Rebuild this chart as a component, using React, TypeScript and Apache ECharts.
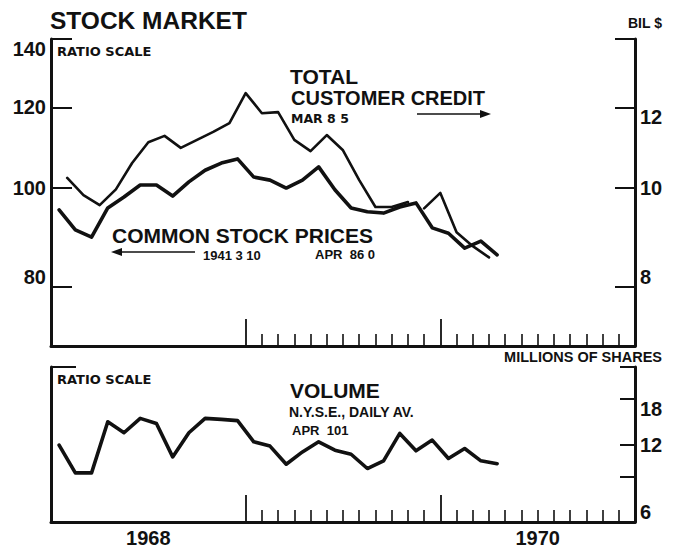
import React, { useEffect, useRef } from "react";
import * as echarts from "echarts";

// ---- data ----
const months = [
  "Jan 1968", "Feb 1968", "Mar 1968", "Apr 1968", "May 1968", "Jun 1968",
  "Jul 1968", "Aug 1968", "Sep 1968", "Oct 1968", "Nov 1968", "Dec 1968",
  "Jan 1969", "Feb 1969", "Mar 1969", "Apr 1969", "May 1969", "Jun 1969",
  "Jul 1969", "Aug 1969", "Sep 1969", "Oct 1969", "Nov 1969", "Dec 1969",
  "Jan 1970", "Feb 1970", "Mar 1970", "Apr 1970",
];
// Common stock prices (1941-43 = 10), monthly averages
const stockPrices = [
  95.2, 91.0, 89.5, 95.6, 98.0, 100.7, 100.7, 98.2, 101.4, 104.1, 105.8, 106.8,
  102.5, 101.8, 100.0, 101.8, 104.9, 99.6, 95.6, 94.8, 94.5, 95.8, 96.7, 91.4,
  90.3, 87.3, 88.7, 86.0,
];
// Total customer credit (bil $), end of month, old series Jan 1968 - Oct 1969
const creditOld = [
  10.23, 9.84, 9.62, 9.97, 10.58, 11.09, 11.25, 10.95, 11.15, 11.35, 11.58, 12.39,
  11.84, 11.87, 11.15, 10.87, 11.27, 10.89, 10.18, 9.58, 9.58, 9.69,
];
// new series Nov 1969 - Mar 1970
const creditNew = [9.55, 9.89, 9.05, 8.77, 8.55];
const creditNewStart = 22; // month index of Nov 1969
// N.Y.S.E. volume, daily average (millions of shares)
const volume = [
  11.93, 9.31, 9.31, 14.7, 13.33, 15.16, 14.49, 10.74, 13.33, 15.16, 15.02, 14.86,
  12.29, 11.83, 10.06, 11.23, 12.29, 11.41, 11.0, 9.68, 10.37, 13.25, 11.34, 12.48,
  10.59, 11.58, 10.37, 10.1,
];

const firstYear = 1968;
const axisYears = 3; // 1968-1970
const tickedYears = [1969, 1970];
const labeledYears = [1968, 1970];

const priceRange = [70, 140];
const priceTicks = [80, 100, 120, 140];
const creditRange = [7, 14];
const creditTicks = [8, 10, 12, 14];
const creditLabels = [8, 10, 12];
const volumeRange = [6, 24];
const volumeLeftTicks = [24];
const volumeRightTicks = [9, 12, 18, 24];
const volumeLabels = [6, 12, 18];

const L = (v: number) => Math.log10(v);
const fromLog = (v: number) => String(Math.round(Math.pow(10, v)));

const FONT = "'Liberation Sans', Arial, sans-serif";
const DEJAVU = "'DejaVu Sans', sans-serif";
const INK = "#111";

function buildOption() {
  const totalMonths = axisYears * 12;
  const longTicks = tickedYears.map((y) => (y - firstYear) * 12);
  const shortTicks: number[] = [];
  for (let m = longTicks[0]; m < totalMonths; m++) {
    if (m % 12 !== 0) shortTicks.push(m);
  }
  const yearLabelPos = labeledYears.map((y) => (y - firstYear) * 12 + 6);

  const gridTop = { left: 51, right: 43, top: 39, height: 307, outerBoundsMode: "none" };
  const gridBot = { left: 51, right: 43, top: 367, height: 155, outerBoundsMode: "none" };

  const baseX = {
    type: "value",
    min: 0,
    max: totalMonths,
    splitLine: { show: false },
    axisLabel: { show: false },
  };
  const xShort = (gridIndex: number, labels: boolean) => ({
    ...baseX,
    gridIndex,
    axisLine: { show: true, lineStyle: { color: INK, width: 3 } },
    axisTick: {
      show: true,
      inside: true,
      length: 12,
      customValues: shortTicks,
      lineStyle: { color: INK, width: 1.6 },
    },
    axisLabel: labels
      ? {
          show: true,
          customValues: yearLabelPos,
          formatter: (v: number) => String(firstYear + Math.floor(v / 12)),
          color: INK,
          fontFamily: FONT,
          fontWeight: "bold",
          fontSize: 20,
          margin: 6,
        }
      : { show: false },
  });
  const xLong = (gridIndex: number) => ({
    ...baseX,
    gridIndex,
    axisLine: { show: false },
    axisTick: {
      show: true,
      inside: true,
      length: 27,
      customValues: longTicks,
      lineStyle: { color: INK, width: 1.8 },
    },
  });

  const yAxisCommon = (
    gridIndex: number,
    position: string,
    range: number[],
    ticks: number[],
    labels: number[] | null,
    tickLen: number
  ) => {
    const lo = L(range[0]);
    const hi = L(range[1]);
    const inside = (v: number) => Math.max(lo + 1e-6, Math.min(hi - 1e-6, L(v)));
    return {
      type: "value",
      gridIndex,
      position,
      min: lo,
      max: hi,
      splitLine: { show: false },
      axisLine: { show: true, lineStyle: { color: INK, width: 3 } },
      axisTick: {
        show: true,
        inside: true,
        length: tickLen,
        customValues: ticks.map(inside),
        lineStyle: { color: INK, width: 2 },
      },
      axisLabel: labels
        ? {
            show: true,
            showMinLabel: true,
            showMaxLabel: true,
            customValues: labels.map(L),
            formatter: fromLog,
            color: INK,
            fontFamily: FONT,
            fontWeight: "bold",
            fontSize: 20,
            margin: 5,
            verticalAlignMaxLabel: "top",
            verticalAlignMinLabel: "bottom",
          }
        : { show: false },
    };
  };
  const hiddenY = (gridIndex: number, range: number[]) => ({
    type: "value",
    gridIndex,
    show: false,
    min: L(range[0]),
    max: L(range[1]),
  });

  const text = (
    str: string,
    x: number,
    y: number,
    size: number,
    weight: string = "bold",
    align: string = "left",
    family: string = FONT
  ) => ({
    type: "text",
    x,
    y,
    silent: true,
    style: {
      text: str,
      fill: INK,
      font: `${weight} ${size}px ${family}`,
      fontSize: size,
      fontWeight: weight,
      fontFamily: family,
      align,
      textAlign: align,
      verticalAlign: "middle",
      textVerticalAlign: "middle",
    },
  });

  const lineStyleOf = (w: number) => ({ color: INK, width: w, cap: "round", join: "round" });

  return {
    animation: false,
    backgroundColor: "#ffffff",
    grid: [gridTop, { ...gridTop }, gridBot, { ...gridBot }],
    xAxis: [xShort(0, false), xLong(1), xShort(2, true), xLong(3)],
    yAxis: [
      yAxisCommon(0, "left", priceRange, priceTicks, priceTicks, 21),
      yAxisCommon(0, "right", creditRange, creditTicks, creditLabels, 20),
      hiddenY(1, priceRange),
      yAxisCommon(2, "left", volumeRange, volumeLeftTicks, null, 25),
      yAxisCommon(2, "right", volumeRange, volumeRightTicks, volumeLabels, 15),
      hiddenY(3, volumeRange),
    ],
    series: [
      {
        name: "Common stock prices",
        type: "line",
        xAxisIndex: 0,
        yAxisIndex: 0,
        symbol: "none",
        lineStyle: lineStyleOf(3.6),
        data: stockPrices.map((v, i) => [i + 0.5, L(v)]),
      },
      {
        name: "Total customer credit",
        type: "line",
        xAxisIndex: 0,
        yAxisIndex: 1,
        symbol: "none",
        lineStyle: lineStyleOf(2.6),
        data: creditOld.map((v, i) => [i + 1, L(v)]),
      },
      {
        name: "Total customer credit (new series)",
        type: "line",
        xAxisIndex: 0,
        yAxisIndex: 1,
        symbol: "none",
        lineStyle: lineStyleOf(2.6),
        data: creditNew.map((v, i) => [creditNewStart + i + 1, L(v)]),
      },
      {
        name: "Volume",
        type: "line",
        xAxisIndex: 2,
        yAxisIndex: 4,
        symbol: "none",
        lineStyle: lineStyleOf(3.6),
        data: volume.map((v, i) => [i + 0.5, L(v)]),
      },
    ],
    graphic: [
      text("STOCK MARKET", 50, 20, 24.5, "bold"),
      text("BIL $", 628, 23, 14),
      text("RATIO SCALE", 57, 51, 13, "bold", "left", DEJAVU),
      text("TOTAL", 290, 76, 21),
      text("CUSTOMER CREDIT", 291, 98, 20),
      text("MAR 8 5", 291, 118, 12.5, "bold", "left", DEJAVU),
      text("COMMON STOCK PRICES", 112, 235, 21),
      text("1941 3 10", 203, 255, 13),
      text("APR  86 0", 315, 254, 13),
      text("MILLIONS OF SHARES", 662, 357, 14.5, "bold", "right"),
      text("RATIO SCALE", 57, 379, 13, "bold", "left", DEJAVU),
      text("VOLUME", 290, 390, 21),
      text("N.Y.S.E., DAILY AV.", 289, 412, 14),
      text("APR  101", 292, 430, 13),
      // arrow to the right (credit -> right scale)
      {
        type: "line",
        silent: true,
        shape: { x1: 417, y1: 114, x2: 484, y2: 114 },
        style: { stroke: INK, lineWidth: 1.6 },
      },
      {
        type: "polygon",
        silent: true,
        shape: { points: [[491, 114], [480, 110], [480, 118]] },
        style: { fill: INK },
      },
      // arrow to the left (stock prices -> left scale)
      {
        type: "line",
        silent: true,
        shape: { x1: 118, y1: 252, x2: 195, y2: 252 },
        style: { stroke: INK, lineWidth: 1.6 },
      },
      {
        type: "polygon",
        silent: true,
        shape: { points: [[111, 252], [122, 248], [122, 256]] },
        style: { fill: INK },
      },
    ],
  };
}

export default function App() {
  const ref = useRef<HTMLDivElement>(null);
  useEffect(() => {
    document.body.style.margin = "0";
    if (!ref.current) return;
    const chart = echarts.init(ref.current, undefined, { renderer: "svg" });
    chart.setOption(buildOption() as any);
    return () => chart.dispose();
  }, []);
  return (
    <div
      ref={ref}
      style={{ width: 678, height: 548, position: "absolute", left: 0, top: 0, background: "#fff" }}
    />
  );
}
